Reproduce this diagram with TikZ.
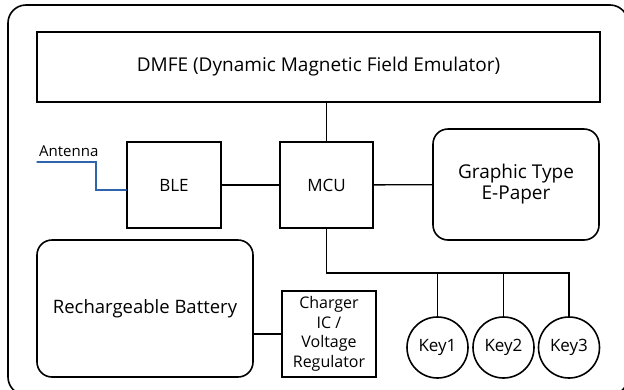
\documentclass[tikz,border=0pt]{standalone}
\usepackage{fontspec}
\setmainfont{Open Sans}
\usepackage{tikz}
\usepackage{xcolor}
\definecolor{antblue}{RGB}{46,100,170}

\begin{document}
\begin{tikzpicture}[x=1pt,y=-1pt,line cap=round,
  blk/.style={draw,line width=1.6pt,inner sep=0pt,font=\fontsize{17}{21}\selectfont,align=center},
  rblk/.style={blk,rounded corners=15pt},
  keynode/.style={draw,circle,line width=1.6pt,minimum size=61pt,inner sep=0pt,font=\fontsize{17}{21}\selectfont},
  wire/.style={line width=1.3pt}]
\useasboundingbox (0,0) rectangle (624,389);
\draw[line width=1.6pt,rounded corners=18pt] (8,5) rectangle (628,395);
\node[blk,minimum width=563pt,minimum height=70pt,font=\fontsize{19}{21}\selectfont] (dmfe) at (318.5,67) {DMFE (Dynamic Magnetic Field Emulator)};
\node[blk,minimum width=94pt,minimum height=86pt] (ble) at (174,185) {BLE};
\node[blk,minimum width=93pt,minimum height=86pt] (mcu) at (326.5,185) {MCU};
\node[rblk,minimum width=166pt,minimum height=111pt,font=\fontsize{19}{21}\selectfont] (epaper) at (516,184.5) {Graphic Type\\E-Paper};
\node[rblk,minimum width=216pt,minimum height=137pt,font=\fontsize{18.5}{21}\selectfont] (battery) at (145,308.5) {Rechargeable Battery};
\node[blk,minimum width=94pt,minimum height=86pt,font=\fontsize{16}{19.5}\selectfont] (charger) at (329,334) {Charger\\IC /\\Voltage\\Regulator};
\node[keynode] (key1) at (437.5,347.5) {Key1};
\node[keynode] (key2) at (503.5,347.5) {Key2};
\node[keynode] (key3) at (569,347.5) {Key3};
\coordinate (ant) at (37,162);
\coordinate (bus) at (327,273);
\node[font=\fontsize{15}{18}\selectfont,anchor=south west,inner sep=0pt] (antlabel) at ([shift={(2,-5)}]ant) {Antenna};
\draw[wire] (mcu.north) -- (mcu.north |- dmfe.south);
\draw[wire] (ble) -- (mcu);
\draw[wire] (mcu) -- (epaper);
\draw[wire,antblue] (ant) -- ++(59,0) |- ([yshift=-5pt]ble.west);
\draw[wire] (mcu.south) -- (mcu.south |- bus) -| (key3.north);
\draw[wire] (key1.north) -- (key1.north |- bus);
\draw[wire] (key2.north) -- (key2.north |- bus);
\draw[wire] (charger.west) -- (charger.west -| battery.east);
\end{tikzpicture}
\end{document}
